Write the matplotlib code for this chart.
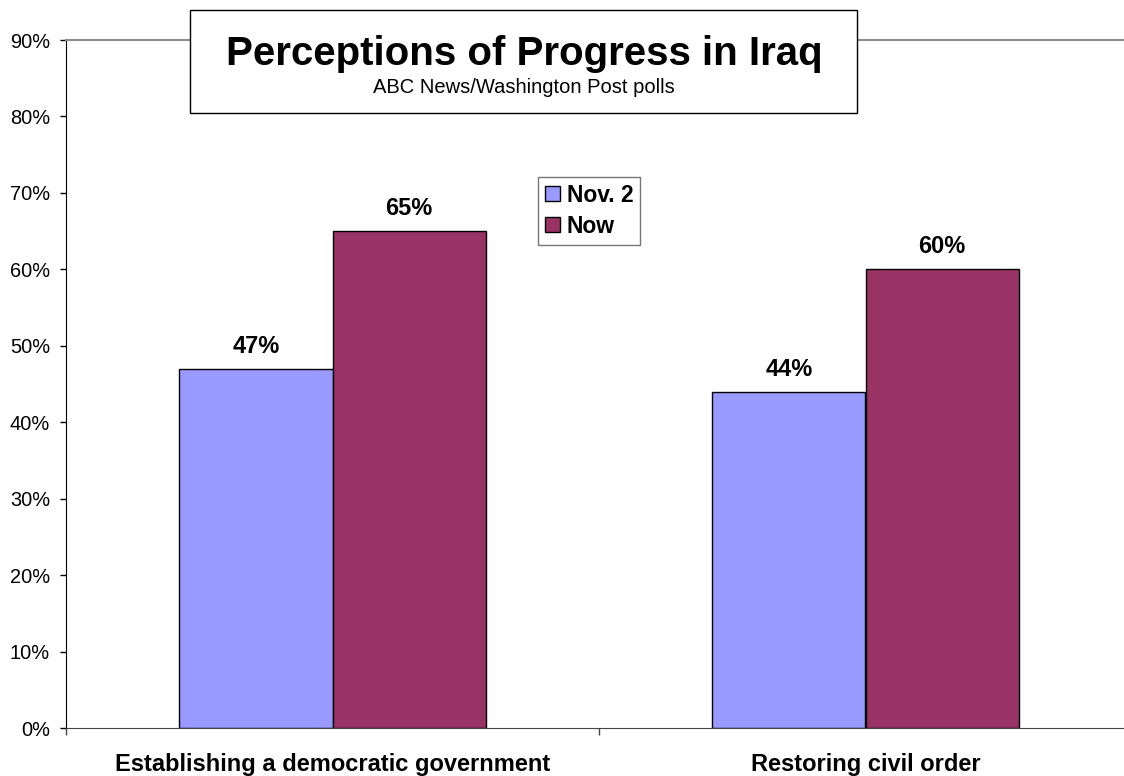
import matplotlib
matplotlib.use("Agg")
import matplotlib.pyplot as plt
from matplotlib.patches import Rectangle
import numpy as np

plt.rcParams['font.family'] = ['Liberation Sans', 'DejaVu Sans']

categories = ["Establishing a democratic government", "Restoring civil order"]
series_names = ["Nov. 2", "Now"]
nov2 = [47, 44]
now = [65, 60]
colors = ["#9999FF", "#993366"]
yticks = [0, 10, 20, 30, 40, 50, 60, 70, 80, 90]

W, H = 1124, 776
fig = plt.figure(figsize=(W / 100, H / 100), dpi=100)
left, right, top, bottom = 66, 1132, 40, 728
ax = fig.add_axes([left / W, 1 - bottom / H, (right - left) / W, (bottom - top) / H])

x = np.arange(len(categories))
width = 0.2875
b1 = ax.bar(x - width / 2, nov2, width, color=colors[0], edgecolor="black", linewidth=1, label=series_names[0])
b2 = ax.bar(x + width / 2, now, width, color=colors[1], edgecolor="black", linewidth=1, label=series_names[1])

for bars, vals in ((b1, nov2), (b2, now)):
    for r, v in zip(bars, vals):
        ax.annotate(f"{v}%", (r.get_x() + r.get_width() / 2, v), xytext=(0, 11.5),
                    textcoords="offset points", ha="center", va="baseline",
                    fontsize=17, fontweight="bold")

ax.set_xlim(-0.5, len(categories) - 0.5)
ax.set_ylim(0, 90)
ax.set_yticks(yticks)
ax.set_yticklabels([f"{t}%" for t in yticks], fontsize=14.4)
ax.tick_params(axis='y', length=4.5, width=1, pad=7, direction='out')

ax.set_xticks(x)
ax.set_xticklabels(categories, fontsize=17, fontweight="bold")
ax.tick_params(axis='x', length=0, pad=18)
ax.set_xticks(np.arange(len(categories) + 1) - 0.5, minor=True)
ax.tick_params(axis='x', which='minor', length=5, width=1, direction='out', color="#444444")

ax.spines['right'].set_visible(False)
ax.spines['top'].set_color("#8c8c8c")
ax.spines['top'].set_linewidth(1.5)
ax.spines['bottom'].set_color("#444444")
ax.spines['left'].set_color("black")

leg = ax.legend(loc='upper left', bbox_to_anchor=((538 - left) / (right - left), 1 - (177 - top) / (bottom - top)),
                frameon=True, fancybox=False, edgecolor="#555555",
                prop={'weight': 'bold', 'size': 16.5}, handlelength=0.65, handleheight=0.65,
                handletextpad=0.3, borderpad=0.3, labelspacing=0.35, borderaxespad=0)
leg.get_frame().set_linewidth(1)

# Title box
fig.patches.append(Rectangle((190 / W, 1 - 113 / H), (857 - 190) / W, (113 - 10) / H,
                             transform=fig.transFigure, facecolor="white", edgecolor="black",
                             linewidth=1, zorder=5))
fig.text(524 / W, 1 - 65 / H, "Perceptions of Progress in Iraq", ha="center", va="baseline",
         fontsize=29, fontweight="bold", zorder=6)
fig.text(524 / W, 1 - 93 / H, "ABC News/Washington Post polls", ha="center", va="baseline",
         fontsize=14.5, zorder=6)

fig.savefig("out.png", dpi=100)
